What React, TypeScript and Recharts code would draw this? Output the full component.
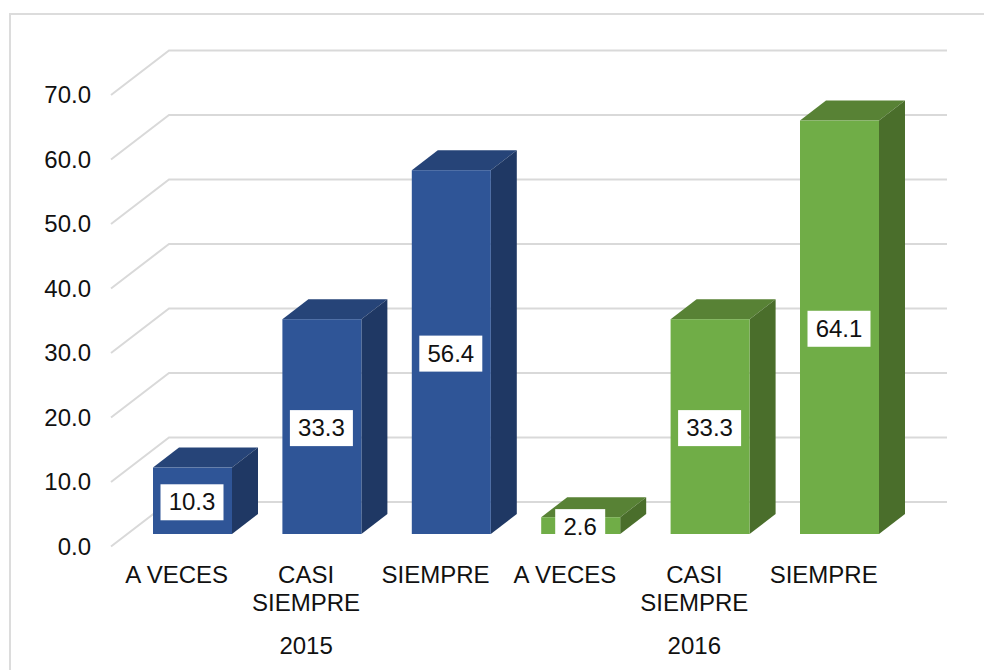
import { BarChart, Bar, CartesianGrid, LabelList, XAxis, YAxis } from 'recharts';

const answers = ['A VECES', 'CASI SIEMPRE', 'SIEMPRE'];
const values2015 = [10.3, 33.3, 56.4];
const values2016 = [2.6, 33.3, 64.1];
const years = ['2015', '2016'];
const yTicks = [0, 10, 20, 30, 40, 50, 60, 70];

const rows = [
    ...answers.map((answer, i) => ({ answer, year: years[0], y2015: values2015[i] })),
    ...answers.map((answer, i) => ({ answer, year: years[1], y2016: values2016[i] })),
];

const FONT = '"Liberation Sans", Arial, sans-serif';
const FONT_SIZE = 24;
const TEXT = '#111111';
const GRID = '#d9d9d9';

// fake 3d: the bars sit in front of the floor edge, the wall is further back
const BAR_DX = 16;
const BAR_DY = -12.5;
const DEPTH_X = 26;
const DEPTH_Y = 20;
const WALL_DX = 57;
const WALL_DY = -44.5;
const WALL_RIGHT = 947;

function gridLine(props: any) {
    const { x1, y1 } = props;
    return (
        <g key={`grid-${y1}`}>
            <polyline
                points={`${x1 - 1},${y1} ${x1 + WALL_DX},${y1 + WALL_DY} ${WALL_RIGHT},${y1 + WALL_DY}`}
                fill="none"
                stroke={GRID}
                strokeWidth={2}
            />
        </g>
    );
}

function box3d(top: string, side: string) {
    return function Box(props: any) {
        const { fill, width, height } = props;
        if (!height || height <= 0) return null;
        const x = props.x + BAR_DX;
        const y = props.y + BAR_DY;
        const r = x + width;
        const b = y + height;
        return (
            <g>
                <polygon
                    points={`${x},${y} ${x + DEPTH_X},${y - DEPTH_Y} ${r + DEPTH_X},${y - DEPTH_Y} ${r},${y}`}
                    fill={top}
                />
                <polygon
                    points={`${r},${y} ${r + DEPTH_X},${y - DEPTH_Y} ${r + DEPTH_X},${b - DEPTH_Y} ${r},${b}`}
                    fill={side}
                />
                <rect x={x} y={y} width={width} height={height} fill={fill} />
            </g>
        );
    };
}

function valueLabel(props: any) {
    const { x, y, width, height, value } = props;
    if (value == null) return null;
    const text = Number(value).toFixed(1);
    const boxW = text.length > 3 ? 63 : 50;
    const cx = x + BAR_DX + width / 2 - 0.5;
    const cy = y + BAR_DY + height / 2 + 1.5;
    return (
        <g>
            <rect x={cx - boxW / 2} y={cy - 18} width={boxW} height={36} fill="#ffffff" />
            <text x={cx} y={cy + 8} textAnchor="middle" fontSize={FONT_SIZE} fontFamily={FONT} fill={TEXT}>
                {text}
            </text>
        </g>
    );
}

function categoryTick(props: any) {
    const { x, y, index, payload } = props;
    const wrapped = payload.value === 'CASI SIEMPRE' ? String(payload.value).split(' ') : [payload.value];
    return (
        <g>
            <text textAnchor="middle" fontSize={FONT_SIZE} fontFamily={FONT} fill={TEXT}>
                {wrapped.map((line: string, i: number) => (
                    <tspan key={line} x={x} y={y + 36.5 + i * 28}>
                        {line}
                    </tspan>
                ))}
            </text>
            {index % 3 === 1 && (
                <text x={x} y={y + 107.5} textAnchor="middle" fontSize={FONT_SIZE} fontFamily={FONT} fill={TEXT}>
                    {rows[index].year}
                </text>
            )}
        </g>
    );
}

function valueTick(props: any) {
    const { y, payload } = props;
    return (
        <text x={91} y={y + 8} textAnchor="end" fontSize={FONT_SIZE} fontFamily={FONT} fill={TEXT}>
            {Number(payload.value).toFixed(1)}
        </text>
    );
}

export default function App() {
    return (
        <div style={{ position: 'absolute', left: 0, top: 0, width: 984, height: 670, background: '#ffffff', overflow: 'hidden' }}>
            <div
                style={{
                    position: 'absolute',
                    left: 9,
                    top: 13,
                    width: 984,
                    height: 670,
                    borderLeft: '2px solid #dcdcdc',
                    borderTop: '2px solid #dcdcdc',
                }}
            />
            <div style={{ position: 'absolute', left: 0, top: 0 }}>
                <BarChart
                    width={984}
                    height={670}
                    data={rows}
                    margin={{ top: 95, right: 95.6, bottom: 0, left: 0 }}
                    barSize={79}
                >
                    <CartesianGrid vertical={false} horizontal={gridLine} />
                    <XAxis
                        dataKey="answer"
                        height={123.5}
                        axisLine={false}
                        tickLine={false}
                        tickSize={0}
                        tickMargin={0}
                        interval={0}
                        tick={categoryTick}
                    />
                    <YAxis
                        width={112}
                        domain={[0, 70]}
                        ticks={yTicks}
                        axisLine={false}
                        tickLine={false}
                        tick={valueTick}
                    />
                    <Bar dataKey="y2015" stackId="a" fill="#2f5597" shape={box3d('#264478', '#1f3864')} isAnimationActive={false}>
                        <LabelList dataKey="y2015" content={valueLabel} />
                    </Bar>
                    <Bar dataKey="y2016" stackId="a" fill="#70ad47" shape={box3d('#588235', '#4a6e2b')} isAnimationActive={false}>
                        <LabelList dataKey="y2016" content={valueLabel} />
                    </Bar>
                </BarChart>
            </div>
        </div>
    );
}
